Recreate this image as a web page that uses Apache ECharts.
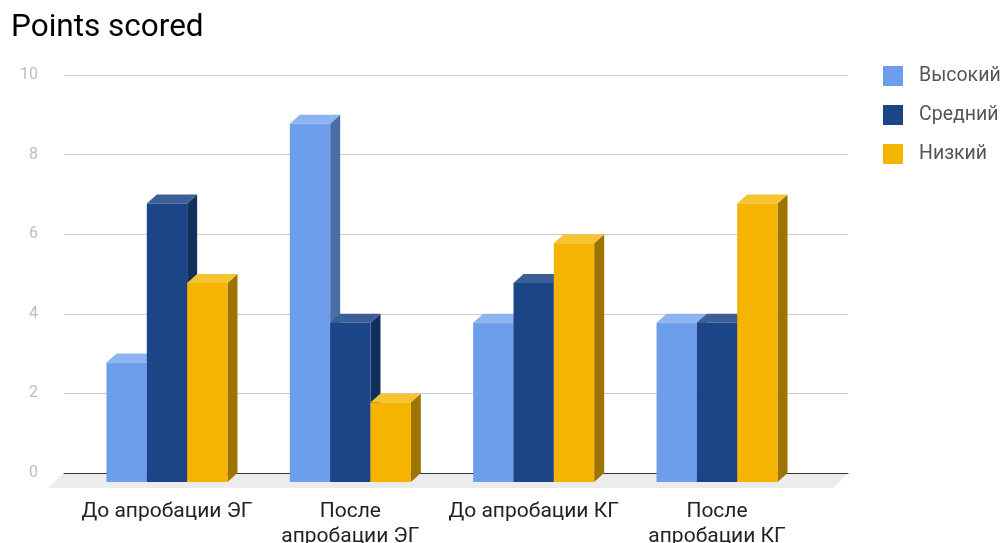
<!DOCTYPE html>
<html>
<head>
<meta charset="utf-8">
<script src="https://cdn.jsdelivr.net/npm/echarts@6/dist/echarts.min.js"></script>
<style>html,body{margin:0;padding:0;background:#fff;}#c{width:1002px;height:543px;}</style>
</head>
<body>
<div id="c"></div>
<script>
var categories = ['До апробации ЭГ', 'После\nапробации ЭГ', 'До апробации КГ', 'После\nапробации КГ'];
var seriesNames = ['Высокий', 'Средний', 'Низкий'];
var highValues = [3, 9, 4, 4];
var midValues = [7, 4, 5, 4];
var lowValues = [5, 2, 6, 7];
var yTicks = [0, 2, 4, 6, 8, 10];

var palette = [
  {front: '#6d9eeb', top: '#8db3f1', side: '#4a6ca7'},
  {front: '#1c4587', top: '#3d5f98', side: '#132f5c'},
  {front: '#f4b400', top: '#f6c433', side: '#9e7400'}
];
var DX = 10, DY = 9;

var chart = echarts.init(document.getElementById('c'));

function barRender(si) {
  return function (params, api) {
    var ci = api.value(0), v = api.value(1);
    var c = api.coord([ci, v]);
    var base = api.coord([ci, 0]);
    var band = api.size([1, 0])[0];
    var w = band * 0.22;
    var left = c[0] - 1.5 * w + si * w;
    var right = left + w;
    var topF = c[1] + DY, botF = base[1] + DY;
    var col = palette[si];
    return {
      type: 'group',
      children: [
        {type: 'polygon', shape: {points: [[right, topF], [right + DX, topF - DY], [right + DX, botF - DY], [right, botF]]}, style: {fill: col.side}},
        {type: 'polygon', shape: {points: [[left, topF], [left + DX, topF - DY], [right + DX, topF - DY], [right, topF]]}, style: {fill: col.top}},
        {type: 'rect', shape: {x: left, y: topF, width: w, height: botF - topF}, style: {fill: col.front}}
      ]
    };
  };
}

var dataSets = [highValues, midValues, lowValues];
var barSeries = dataSets.map(function (arr, si) {
  return {
    type: 'custom',
    name: seriesNames[si],
    xAxisIndex: 1,
    yAxisIndex: 1,
    z: 3,
    clip: false,
    itemStyle: {color: palette[si].front},
    renderItem: barRender(si),
    data: arr.map(function (v, i) { return [i, v]; })
  };
});

var floorSeries = {
  type: 'custom',
  xAxisIndex: 0,
  yAxisIndex: 0,
  z: 0,
  clip: false,
  silent: true,
  renderItem: function (params, api) {
    var cs = params.coordSys;
    var y0 = api.coord([0, 0])[1];
    var x0 = cs.x, x1 = cs.x + cs.width;
    return {
      type: 'polygon',
      shape: {points: [[x0, y0], [x1, y0], [x1 - 15, y0 + 15], [x0 - 16, y0 + 15]]},
      style: {fill: '#ececec'}
    };
  },
  data: [[0, 0]]
};

chart.setOption({
  animation: false,
  backgroundColor: '#fff',
  textStyle: {fontFamily: 'Roboto'},
  title: {
    text: 'Points scored', left: 6, top: 7,
    textStyle: {fontSize: 31.5, fontWeight: 'normal', color: '#000', fontFamily: 'Roboto'}
  },
  legend: {
    orient: 'vertical', left: 878, top: 61, itemWidth: 20, itemHeight: 20, itemGap: 19,
    icon: 'rect', data: seriesNames,
    textStyle: {fontSize: 19.5, lineHeight: 20, color: '#555', fontFamily: 'Roboto', padding: [0, 0, 0, 11]}
  },
  grid: [
    {left: 64, width: 784, top: 75, bottom: 70, containLabel: false, outerBoundsMode: 'none'},
    {left: 75.3, width: 733.4, top: 75, bottom: 70, containLabel: false, outerBoundsMode: 'none'}
  ],
  xAxis: [
    {type: 'value', gridIndex: 0, min: 0, max: 1, z: 1,
      axisLine: {show: true, onZero: true, lineStyle: {color: '#333', width: 1}},
      axisTick: {show: false}, axisLabel: {show: false}, splitLine: {show: false}},
    {type: 'category', gridIndex: 1, data: categories,
      axisLine: {show: false}, axisTick: {show: false}, splitLine: {show: false},
      axisLabel: {fontSize: 21, lineHeight: 25, color: '#222', margin: 26, fontFamily: 'Roboto', interval: 0}}
  ],
  yAxis: [
    {type: 'value', gridIndex: 0, min: 0, max: 10, interval: 2,
      axisLine: {show: false}, axisTick: {show: false},
      axisLabel: {fontSize: 16, color: '#bdbdbd', margin: 26, fontFamily: 'Roboto',
        formatter: function (v) { return yTicks.indexOf(v) >= 0 ? String(v) : ''; }},
      splitLine: {lineStyle: {color: '#cccccc', width: 1}}},
    {type: 'value', gridIndex: 1, min: 0, max: 10, interval: 2, show: false, splitLine: {show: false}}
  ],
  series: [floorSeries].concat(barSeries)
});
</script>
</body>
</html>
